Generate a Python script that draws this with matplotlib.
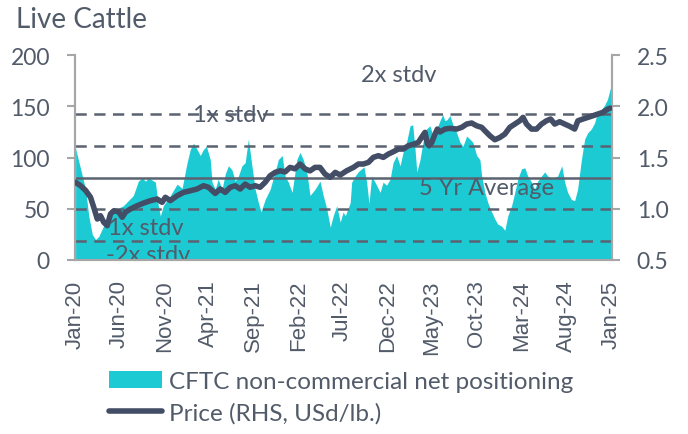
import pandas as pd
import matplotlib.pyplot as plt
import matplotlib.dates as mdates
from matplotlib.patches import Patch
from matplotlib.lines import Line2D

# CFTC non-commercial net positioning (left axis)
pos_dates = ['2020-01-03', '2020-01-20', '2020-02-06', '2020-02-17', '2020-02-29', '2020-03-11',
             '2020-03-22', '2020-04-07', '2020-04-24', '2020-05-11', '2020-05-24', '2020-06-14',
             '2020-07-18', '2020-08-04', '2020-08-17', '2020-08-28', '2020-09-08', '2020-09-20',
             '2020-10-01', '2020-10-11', '2020-10-18', '2020-10-28', '2020-11-21', '2020-12-14',
             '2020-12-31', '2021-01-17', '2021-01-28', '2021-02-08', '2021-02-20', '2021-03-03',
             '2021-03-14', '2021-03-24', '2021-04-06', '2021-04-12', '2021-04-23', '2021-05-03',
             '2021-05-16', '2021-05-27', '2021-06-07', '2021-06-19', '2021-06-30', '2021-07-11',
             '2021-07-23', '2021-08-03', '2021-08-14', '2021-08-26', '2021-09-06', '2021-09-17',
             '2021-09-26', '2021-10-10', '2021-10-27', '2021-11-13', '2021-11-24', '2021-12-07',
             '2021-12-17', '2021-12-28', '2022-01-10', '2022-01-26', '2022-02-06', '2022-02-17',
             '2022-03-01', '2022-03-12', '2022-03-29', '2022-04-15', '2022-04-26', '2022-05-08',
             '2022-05-20', '2022-05-30', '2022-06-11', '2022-06-23', '2022-07-03', '2022-07-10',
             '2022-07-27', '2022-08-01', '2022-08-13', '2022-08-23', '2022-09-04', '2022-09-12',
             '2022-09-21', '2022-09-29', '2022-10-08', '2022-10-25', '2022-11-06', '2022-11-16',
             '2022-11-28', '2022-12-10', '2022-12-20', '2023-01-01', '2023-01-13', '2023-01-23',
             '2023-02-04', '2023-02-16', '2023-02-25', '2023-03-05', '2023-03-11', '2023-03-22',
             '2023-04-01', '2023-04-13', '2023-04-25', '2023-05-05', '2023-05-18', '2023-05-29',
             '2023-06-07', '2023-06-15', '2023-06-22', '2023-07-02', '2023-07-12', '2023-07-25',
             '2023-08-05', '2023-08-15', '2023-08-28', '2023-09-08', '2023-09-18', '2023-10-01',
             '2023-10-12', '2023-10-18', '2023-10-29', '2023-11-08', '2023-11-21', '2023-12-02',
             '2023-12-12', '2023-12-25', '2024-01-05', '2024-01-15', '2024-01-28', '2024-02-08',
             '2024-02-18', '2024-03-02', '2024-03-13', '2024-03-23', '2024-04-05', '2024-04-16',
             '2024-04-26', '2024-05-09', '2024-05-20', '2024-05-30', '2024-06-16', '2024-07-03',
             '2024-07-17', '2024-07-27', '2024-08-06', '2024-08-19', '2024-08-30', '2024-09-09',
             '2024-09-22', '2024-10-03', '2024-10-13', '2024-10-26', '2024-11-06', '2024-11-16',
             '2024-11-29', '2024-12-10', '2024-12-20', '2024-12-29', '2025-01-03']
pos_values = [109, 89, 69, 43, 25, 20,
              23, 33, 43, 47, 50, 53,
              63, 77, 80, 77, 80, 78,
              76, 53, 43, 53, 63, 74,
              70, 95, 108, 114, 108, 102,
              108, 111, 98, 76, 69, 79,
              69, 84, 92, 88, 77, 82,
              92, 95, 118, 92, 69, 56,
              47, 59, 69, 86, 98, 102,
              82, 76, 66, 98, 105, 98,
              86, 63, 69, 77, 63, 50,
              32, 43, 53, 37, 47, 43,
              56, 76, 82, 86, 89, 91,
              76, 55, 82, 73, 66, 76,
              73, 79, 95, 102, 92, 105,
              115, 131, 132, 108, 86, 98,
              115, 128, 131, 121, 128, 136,
              142, 136, 137, 141, 132, 124,
              115, 111, 121, 118, 115, 102,
              98, 82, 66, 56, 47, 40,
              35, 33, 29, 43, 53, 66,
              79, 89, 90, 82, 76, 69,
              77, 82, 86, 82, 79, 82,
              92, 76, 66, 59, 58, 69,
              98, 118, 124, 128, 134, 144,
              147, 151, 157, 167, 170]

# Live cattle price (right axis, USd/lb.)
price_dates = ['2020-01-03', '2020-01-20', '2020-02-06', '2020-02-23', '2020-03-05', '2020-03-17',
               '2020-03-28', '2020-04-08', '2020-04-20', '2020-05-01', '2020-05-12', '2020-05-29',
               '2020-06-10', '2020-06-21', '2020-07-08', '2020-07-31', '2020-08-22', '2020-09-14',
               '2020-10-07', '2020-10-24', '2020-11-04', '2020-11-21', '2020-12-14', '2021-01-05',
               '2021-01-28', '2021-02-20', '2021-03-14', '2021-03-31', '2021-04-23', '2021-05-10',
               '2021-05-27', '2021-06-13', '2021-06-30', '2021-07-17', '2021-08-03', '2021-08-20',
               '2021-09-06', '2021-09-23', '2021-10-10', '2021-10-27', '2021-11-13', '2021-11-30',
               '2021-12-17', '2022-01-03', '2022-01-20', '2022-02-06', '2022-02-23', '2022-03-12',
               '2022-03-29', '2022-04-15', '2022-05-02', '2022-05-20', '2022-06-06', '2022-06-23',
               '2022-07-15', '2022-08-07', '2022-08-24', '2022-09-10', '2022-09-27', '2022-10-14',
               '2022-10-31', '2022-11-17', '2022-12-04', '2022-12-21', '2023-01-07', '2023-01-24',
               '2023-02-10', '2023-02-27', '2023-03-16', '2023-03-31', '2023-04-08', '2023-04-16',
               '2023-04-22', '2023-05-01', '2023-05-12', '2023-05-20', '2023-05-29', '2023-06-15',
               '2023-07-02', '2023-07-25', '2023-08-11', '2023-08-28', '2023-09-14', '2023-10-01',
               '2023-10-18', '2023-10-29', '2023-11-15', '2023-12-02', '2023-12-19', '2024-01-05',
               '2024-01-22', '2024-02-08', '2024-02-25', '2024-03-07', '2024-03-19', '2024-04-05',
               '2024-04-22', '2024-05-09', '2024-05-26', '2024-06-09', '2024-06-23', '2024-07-10',
               '2024-07-27', '2024-08-13', '2024-08-30', '2024-09-10', '2024-09-27', '2024-10-14',
               '2024-10-31', '2024-11-17', '2024-12-04', '2024-12-21', '2024-12-30']
price_values = [1.258, 1.225, 1.180, 1.112, 1.014, 0.900,
                0.932, 0.868, 0.835, 0.950, 0.980, 0.970,
                0.917, 0.967, 0.998, 1.030, 1.056, 1.079,
                1.095, 1.063, 1.112, 1.080, 1.127, 1.160,
                1.176, 1.193, 1.225, 1.210, 1.150, 1.193,
                1.160, 1.209, 1.225, 1.193, 1.241, 1.210,
                1.225, 1.210, 1.258, 1.322, 1.355, 1.371,
                1.360, 1.404, 1.390, 1.437, 1.390, 1.370,
                1.404, 1.404, 1.339, 1.307, 1.355, 1.330,
                1.371, 1.404, 1.437, 1.437, 1.453, 1.502,
                1.518, 1.502, 1.534, 1.557, 1.583, 1.583,
                1.615, 1.630, 1.648, 1.713, 1.746, 1.632,
                1.615, 1.648, 1.729, 1.778, 1.750, 1.778,
                1.785, 1.778, 1.795, 1.827, 1.837, 1.810,
                1.795, 1.762, 1.713, 1.674, 1.696, 1.729,
                1.795, 1.827, 1.859, 1.892, 1.827, 1.778,
                1.778, 1.827, 1.859, 1.876, 1.827, 1.850,
                1.827, 1.805, 1.778, 1.859, 1.876, 1.892,
                1.908, 1.925, 1.941, 1.973, 1.983]

# 5 year average and standard deviation of the positioning
avg_5yr = 80.5
stdv = 31.0
band_mult = [2, 1, -1, -2]

tick_dates = pd.date_range('2020-01-01', '2025-01-01', freq='5MS')

teal = '#1ccad4'
navy = '#434e66'
grey_line = '#5b6270'
text_col = '#525b69'

plt.rcParams['font.family'] = ['Lato', 'DejaVu Sans']

fig = plt.figure(figsize=(6.88, 4.35), dpi=100)
ax = fig.add_axes([0.109, 0.40, 0.780, 0.471])
ax2 = ax.twinx()

pd_x = pd.to_datetime(pos_dates)
pr_x = pd.to_datetime(price_dates)

ax.fill_between(pd_x, 0, pos_values, color=teal, linewidth=0, zorder=1)
ax.axhline(avg_5yr, color=grey_line, linewidth=1.8, zorder=2)
for m in band_mult:
    ax.axhline(avg_5yr + m * stdv, color=grey_line, linewidth=1.8,
               linestyle=(0, (4.5, 3)), zorder=2)

ax2.plot(pr_x, price_values, color=navy, linewidth=4, solid_capstyle='round', zorder=3)

ax.set_xlim(pd_x[0], pd_x[-1])
ax.set_ylim(0, 200)
ax.set_yticks([0, 50, 100, 150, 200])
ax2.set_ylim(0.5, 2.5)
ax2.set_yticks([0.5, 1.0, 1.5, 2.0, 2.5])
ax2.set_yticklabels(['0.5', '1.0', '1.5', '2.0', '2.5'])

ax.set_xticks(tick_dates)
ax.xaxis.set_major_formatter(mdates.DateFormatter('%b-%y'))
for lab in ax.get_xticklabels():
    lab.set_rotation(90)
    lab.set_fontfamily('Liberation Sans')
    lab.set_fontsize(16)
    lab.set_color(text_col)

for a in (ax, ax2):
    for s in a.spines.values():
        s.set_color('#a6a6a6')
        s.set_linewidth(1.5)
    a.spines['top'].set_visible(False)
    a.tick_params(axis='y', colors='#a6a6a6', labelcolor=text_col, labelsize=16.5,
                  length=6, width=1.5, pad=12)
    a.tick_params(axis='x', length=0, pad=14)
ax.set_zorder(1)
ax2.set_zorder(2)
ax2.patch.set_visible(False)
ax.patch.set_visible(False)

# band labels
label_kw = dict(fontsize=17, color=text_col, ha='center', va='center',
                transform=ax.get_yaxis_transform(), clip_on=True)
ax.text(0.291, 142, '1x stdv', **label_kw)
ax.text(0.604, 181, '2x stdv', **label_kw)
ax.text(0.767, 71, '5 Yr Average', **label_kw)
ax.text(0.132, 32, '1x stdv', **label_kw)
ax.text(0.137, 5, '-2x stdv', **label_kw)

fig.text(0.023, 0.955, 'Live Cattle', fontsize=20, color=text_col, ha='left', va='center')

handles = [Patch(facecolor=teal, edgecolor='none'),
           Line2D([0], [0], color=navy, linewidth=4, solid_capstyle='round')]
fig.legend(handles, ['CFTC non-commercial net positioning', 'Price (RHS, USd/lb.)'],
           loc='upper left', bbox_to_anchor=(0.158, 0.145), frameon=False, fontsize=17.5,
           labelcolor=text_col, handlelength=2.2, handletextpad=0.3, labelspacing=0.42,
           borderaxespad=0, borderpad=0)

plt.savefig('out.png', dpi=100)
plt.close()
